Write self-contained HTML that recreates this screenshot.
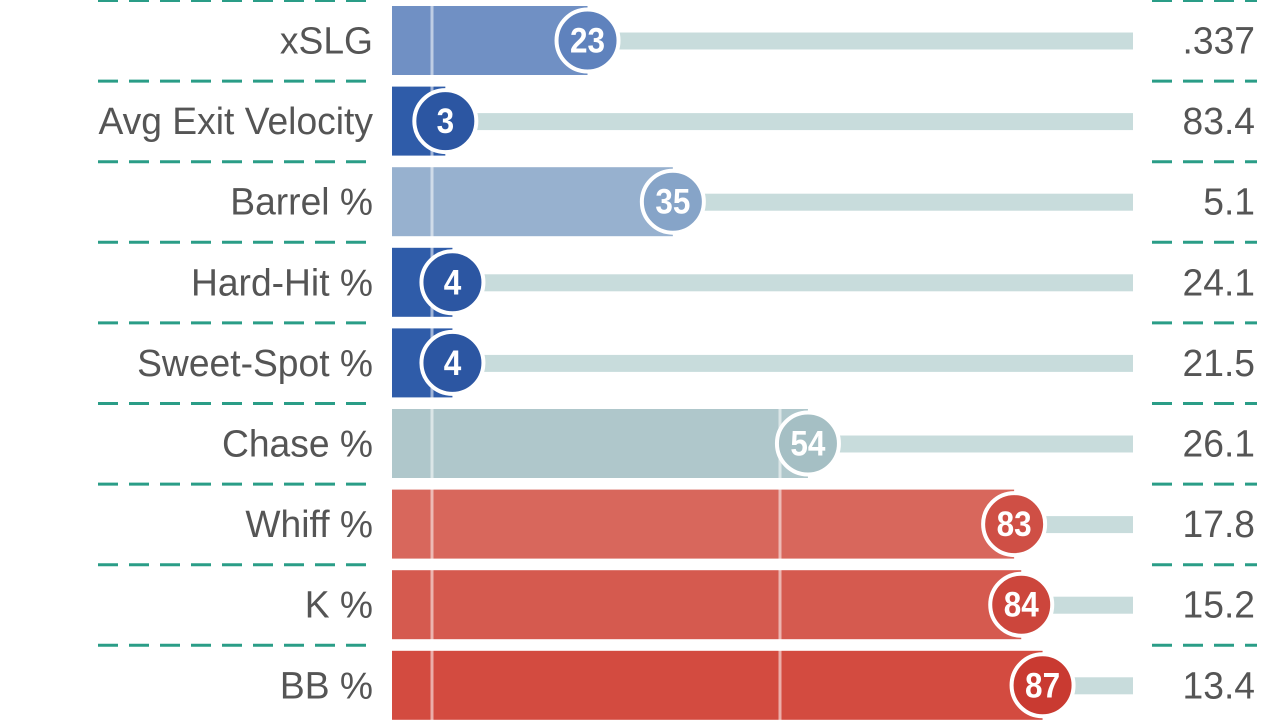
<!DOCTYPE html>
<html><head><meta charset="utf-8"><style>
html,body{margin:0;padding:0;background:#fff;width:1280px;height:720px;overflow:hidden}
text{font-family:"Liberation Sans",sans-serif}
</style></head><body>
<svg width="1280" height="720" viewBox="0 0 1280 720" xmlns="http://www.w3.org/2000/svg">
<g id="rows"></g>
</svg>
<script>
const data=[
["xSLG",23,".337","#7090c4","#5f82bd"],
["Avg Exit Velocity",3,"83.4","#2f5ca9","#2c56a2"],
["Barrel %",35,"5.1","#97b1cf","#86a4c8"],
["Hard-Hit %",4,"24.1","#2f5ca9","#2c56a2"],
["Sweet-Spot %",4,"21.5","#2f5ca9","#2c56a2"],
["Chase %",54,"26.1","#afc7cb","#a5bfc4"],
["Whiff %",83,"17.8","#d8675c","#cf4f45"],
["K %",84,"15.2","#d55a4f","#cc463c"],
["BB %",87,"13.4","#d34b40","#c93a31"]];
let s='';
const pitch=80.6;
for(let i=0;i<=data.length;i++){
 const y=0.5+pitch*i;
 s+=`<line x1="98" y1="${y}" x2="376" y2="${y}" stroke="#2a9d87" stroke-width="3" stroke-dasharray="20 11"/>`;
 s+=`<line x1="1152" y1="${y}" x2="1257" y2="${y}" stroke="#2a9d87" stroke-width="3" stroke-dasharray="20 11"/>`;
}
data.forEach((d,i)=>{
 const cy=40.5+pitch*i, cx=424+7.11*d[1];
 s+=`<rect x="392" y="${cy-34.5}" width="${cx-392}" height="69" fill="${d[3]}"/>`;
});
s+=`<line x1="432" y1="0" x2="432" y2="720" stroke="#fff" stroke-opacity="0.55" stroke-width="3"/>`;
s+=`<line x1="780" y1="0" x2="780" y2="720" stroke="#fff" stroke-opacity="0.55" stroke-width="3"/>`;
data.forEach((d,i)=>{
 const cy=40.5+pitch*i, cx=424+7.11*d[1];
 s+=`<rect x="${cx}" y="${cy-8}" width="${1133-cx}" height="17" fill="#c8dcdc"/>`;
 s+=`<circle cx="${cx}" cy="${cy}" r="31" fill="${d[4]}" stroke="#fff" stroke-width="4"/>`;
 s+=`<g transform="translate(${cx},${cy+12}) scale(0.9,1)"><text text-anchor="middle" font-size="35" font-weight="bold" fill="#fff">${d[1]}</text></g>`;
 s+=`<g transform="translate(373,${cy+13}) scale(0.98,1)"><text text-anchor="end" font-size="38" fill="#555">${d[0]}</text></g>`;
 s+=`<g transform="translate(1255,${cy+13}) scale(0.98,1)"><text text-anchor="end" font-size="38" fill="#555">${d[2]}</text></g>`;
});
document.getElementById('rows').innerHTML=s;
</script>
</body></html>
